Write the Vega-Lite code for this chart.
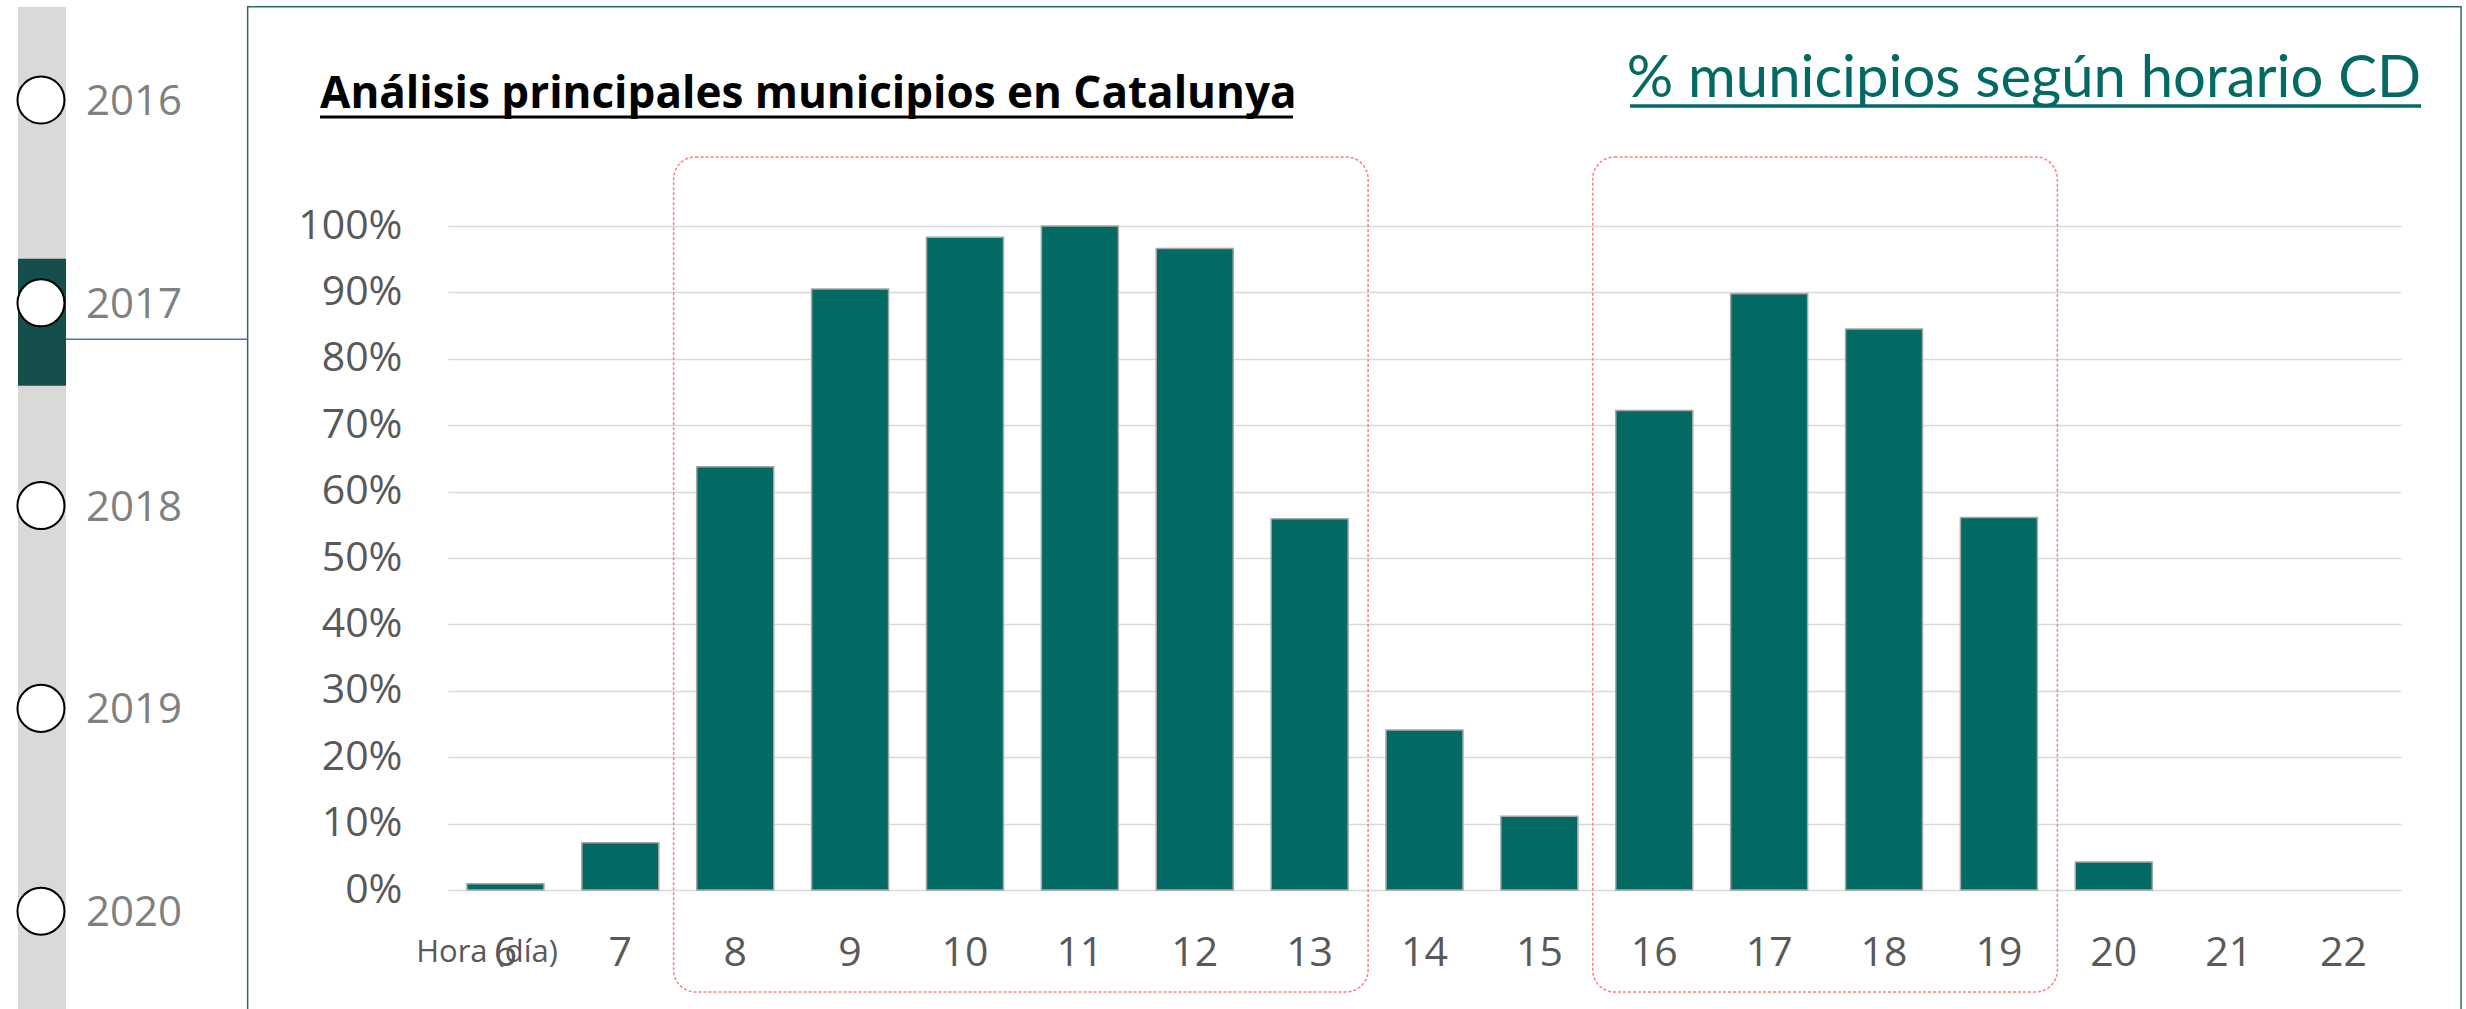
{
  "$schema": "https://vega.github.io/schema/vega-lite/v6.json",
  "width": 1953,
  "height": 664,
  "autosize": {"type": "none"},
  "padding": {"left": 448, "top": 226, "right": 65, "bottom": 119},
  "background": "white",
  "config": {"view": {"stroke": null}},
  "layer": [
    {
      "data": {"values": [
        {"hour": 6, "pct": 0.0096},
        {"hour": 7, "pct": 0.071},
        {"hour": 8, "pct": 0.6375},
        {"hour": 9, "pct": 0.905},
        {"hour": 10, "pct": 0.983},
        {"hour": 11, "pct": 1.0},
        {"hour": 12, "pct": 0.966},
        {"hour": 13, "pct": 0.559},
        {"hour": 14, "pct": 0.241},
        {"hour": 15, "pct": 0.111},
        {"hour": 16, "pct": 0.722},
        {"hour": 17, "pct": 0.898},
        {"hour": 18, "pct": 0.845},
        {"hour": 19, "pct": 0.561},
        {"hour": 20, "pct": 0.042},
        {"hour": 21, "pct": 0},
        {"hour": 22, "pct": 0}
      ]},
      "layer": [
        {
          "mark": {"type": "bar", "fill": "#036963", "stroke": "#A6A6A6", "strokeWidth": 1.5},
          "encoding": {
            "x": {
              "field": "hour", "type": "ordinal", "title": "Hora (día)",
              "scale": {"domain": [6,7,8,9,10,11,12,13,14,15,16,17,18,19,20,21,22], "paddingInner": 0.33, "paddingOuter": 0.165},
              "axis": {
                "labelAngle": 0, "domain": false, "ticks": false, "tickSize": 0, "grid": false,
                "labelPadding": 75, "labelBaseline": "alphabetic",
                "labelFont": "Open Sans", "labelFontSize": 41, "labelColor": "#595959",
                "titleX": 38.5, "titleY": 71.7, "titleAlign": "center", "titleBaseline": "alphabetic", "titleAngle": 0,
                "titleFont": "Open Sans", "titleFontSize": 31, "titleFontWeight": "normal", "titleColor": "#595959"
              }
            },
            "y": {
              "field": "pct", "type": "quantitative", "title": null,
              "scale": {"domain": [0, 1], "nice": false, "zero": true},
              "axis": {
                "values": [0, 0.1, 0.2, 0.3, 0.4, 0.5, 0.6, 0.7, 0.8, 0.9, 1],
                "format": ".0%", "domain": false, "ticks": false, "tickSize": 0,
                "labelPadding": 46, "labelFont": "Open Sans", "labelFontSize": 41, "labelColor": "#595959",
                "grid": true, "gridColor": "#D9D9D9", "gridWidth": 1.5
              }
            },
            "strokeOpacity": {"condition": {"test": "datum.pct == 0", "value": 0}, "value": 1}
          }
        },
        {
          "data": {"values": [
            {"start": 8, "end": 13},
            {"start": 16, "end": 19}
          ]},
          "mark": {"type": "rect", "fill": "transparent", "stroke": "#FF7C80", "strokeWidth": 1.5, "strokeDash": [3, 2], "cornerRadius": 22, "clip": false},
          "encoding": {
            "x": {"field": "start", "type": "ordinal", "title": "Hora (día)", "bandPosition": -0.3,
                  "scale": {"domain": [6,7,8,9,10,11,12,13,14,15,16,17,18,19,20,21,22], "paddingInner": 0.33, "paddingOuter": 0.165}},
            "x2": {"field": "end", "bandPosition": 1.26},
            "y": {"datum": 1.104, "type": "quantitative", "scale": {"domain": [0, 1], "nice": false, "zero": true}},
            "y2": {"datum": -0.1536}
          }
        }
      ]
    },
    {
      "data": {"values": [{}]},
      "layer": [
        {
          "mark": {"type": "rect", "fill": "#D9D9D9", "clip": false},
          "encoding": {
            "x": {"datum": 1.757, "type": "quantitative", "scale": {"domain": [5.5, 22.5], "nice": false, "zero": false}, "axis": null},
            "x2": {"datum": 2.175},
            "y": {"datum": 1.3303, "type": "quantitative", "scale": {"domain": [0, 1], "nice": false, "zero": false}, "axis": null},
            "y2": {"datum": -0.211}
          }
        },
        {
          "mark": {"type": "rect", "fill": "transparent", "stroke": "#2F6B66", "strokeWidth": 1.5, "clip": false},
          "encoding": {
            "x": {"datum": 3.756, "type": "quantitative", "scale": {"domain": [5.5, 22.5], "nice": false, "zero": false}, "axis": null},
            "x2": {"datum": 23.023},
            "y": {"datum": 1.3303, "type": "quantitative", "scale": {"domain": [0, 1], "nice": false, "zero": false}, "axis": null},
            "y2": {"datum": -0.211}
          }
        },
        {
          "mark": {"type": "rule", "color": "#4472C4", "strokeWidth": 1.5, "clip": false},
          "encoding": {
            "x": {"datum": 2.175, "type": "quantitative", "scale": {"domain": [5.5, 22.5], "nice": false, "zero": false}, "axis": null},
            "x2": {"datum": 3.756},
            "y": {"datum": 0.8294, "type": "quantitative", "scale": {"domain": [0, 1], "nice": false, "zero": false}, "axis": null}
          }
        },
        {
          "mark": {"type": "text", "text": "Análisis principales municipios en Catalunya", "align": "left", "baseline": "alphabetic",
                   "font": "Open Sans", "fontWeight": "bold", "fontSize": 44, "color": "#000000", "clip": false},
          "encoding": {
            "x": {"datum": 4.386, "type": "quantitative", "scale": {"domain": [5.5, 22.5], "nice": false, "zero": false}, "axis": null},
            "y": {"datum": 1.1773, "type": "quantitative", "scale": {"domain": [0, 1], "nice": false, "zero": false}, "axis": null}
          }
        },
        {
          "mark": {"type": "rule", "color": "#000000", "strokeWidth": 3, "clip": false},
          "encoding": {
            "x": {"datum": 4.386, "type": "quantitative", "scale": {"domain": [5.5, 22.5], "nice": false, "zero": false}, "axis": null},
            "x2": {"datum": 12.855},
            "y": {"datum": 1.1642, "type": "quantitative", "scale": {"domain": [0, 1], "nice": false, "zero": false}, "axis": null}
          }
        },
        {
          "mark": {"type": "text", "text": "% municipios según horario CD", "align": "right", "baseline": "alphabetic",
                   "font": "Lato", "fontWeight": "normal", "fontSize": 58, "color": "#036963", "clip": false},
          "encoding": {
            "x": {"datum": 22.675, "type": "quantitative", "scale": {"domain": [5.5, 22.5], "nice": false, "zero": false}, "axis": null},
            "y": {"datum": 1.1947, "type": "quantitative", "scale": {"domain": [0, 1], "nice": false, "zero": false}, "axis": null}
          }
        },
        {
          "mark": {"type": "rule", "color": "#036963", "strokeWidth": 3.3, "clip": false},
          "encoding": {
            "x": {"datum": 15.789, "type": "quantitative", "scale": {"domain": [5.5, 22.5], "nice": false, "zero": false}, "axis": null},
            "x2": {"datum": 22.675},
            "y": {"datum": 1.1807, "type": "quantitative", "scale": {"domain": [0, 1], "nice": false, "zero": false}, "axis": null}
          }
        }
      ]
    },
    {
      "data": {"values": [
        {"year": 2016, "selected": false},
        {"year": 2017, "selected": true},
        {"year": 2018, "selected": false},
        {"year": 2019, "selected": false},
        {"year": 2020, "selected": false}
      ]},
      "layer": [
        {
          "transform": [{"filter": "datum.selected"}],
          "mark": {"type": "tick", "orient": "vertical", "size": 127, "thickness": 48, "color": "#154E4A", "opacity": 1, "yOffset": 19.5, "clip": false},
          "encoding": {
            "x": {"datum": 1.966, "type": "quantitative", "scale": {"domain": [5.5, 22.5], "nice": false, "zero": false}, "axis": null},
            "y": {"field": "year", "type": "quantitative", "scale": {"domain": [2016.6213, 2019.8956], "nice": false, "zero": false, "reverse": true}, "axis": null}
          }
        },
        {
          "mark": {"type": "point", "shape": "circle", "filled": true, "fill": "white", "stroke": "black", "strokeWidth": 2, "size": 2209, "opacity": 1, "clip": false},
          "encoding": {
            "x": {"datum": 1.957, "type": "quantitative", "scale": {"domain": [5.5, 22.5], "nice": false, "zero": false}, "axis": null},
            "y": {"field": "year", "type": "quantitative", "scale": {"domain": [2016.6213, 2019.8956], "nice": false, "zero": false, "reverse": true}, "axis": null}
          }
        },
        {
          "mark": {"type": "text", "align": "left", "baseline": "middle", "dy": 2, "font": "Open Sans", "fontSize": 42, "color": "#808080", "clip": false},
          "encoding": {
            "x": {"datum": 2.349, "type": "quantitative", "scale": {"domain": [5.5, 22.5], "nice": false, "zero": false}, "axis": null},
            "y": {"field": "year", "type": "quantitative", "scale": {"domain": [2016.6213, 2019.8956], "nice": false, "zero": false, "reverse": true}, "axis": null},
            "text": {"field": "year", "type": "nominal"}
          }
        }
      ]
    }
  ],
  "resolve": {"scale": {"x": "independent", "y": "independent"}}
}
